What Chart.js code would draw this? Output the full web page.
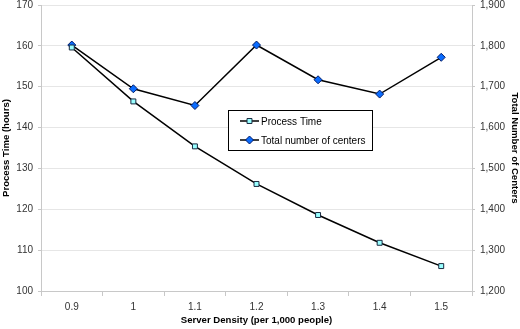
<!DOCTYPE html>
<html lang="en">
<head>
<meta charset="utf-8"/>
<title>Process Time vs Server Density</title>
<script src="https://cdn.jsdelivr.net/npm/chart.js@4.4.3/dist/chart.umd.min.js"></script>
<style>
  html, body { margin: 0; padding: 0; background: #fff; }
  #wrap { width: 520px; height: 329px; position: relative; }
</style>
</head>
<body>
<div id="wrap"><canvas id="chart"></canvas></div>
<script>
  // data
  const densities = ['0.9', '1', '1.1', '1.2', '1.3', '1.4', '1.5'];
  const processTime = [159.6, 146.4, 135.4, 126.2, 118.6, 111.8, 106.1];
  const totalCenters = [1802, 1695, 1654, 1802, 1717, 1682, 1772];

  // legend box drawn inside the plot, like the spreadsheet original
  const boxLegend = {
    id: 'boxLegend',
    afterDraw(chart) {
      const ctx = chart.ctx;
      const a = chart.chartArea;
      const x = a.left + 187, y = a.top + 105, w = 144, h = 40;
      ctx.save();
      ctx.fillStyle = '#fff';
      ctx.fillRect(x, y, w, h);
      ctx.strokeStyle = '#000';
      ctx.lineWidth = 1;
      ctx.strokeRect(x + 0.5, y + 0.5, w, h);
      ctx.font = '10px "Liberation Sans", Arial, sans-serif';
      ctx.textBaseline = 'middle';
      chart.data.datasets.forEach((ds, i) => {
        const cy = y + 11 + i * 19;
        ctx.strokeStyle = '#000';
        ctx.lineWidth = 1.5;
        ctx.beginPath();
        ctx.moveTo(x + 12, cy);
        ctx.lineTo(x + 31, cy);
        ctx.stroke();
        ctx.fillStyle = ds.pointBackgroundColor;
        ctx.strokeStyle = ds.pointBorderColor;
        ctx.lineWidth = 1;
        Chart.helpers.drawPoint(ctx, { pointStyle: ds.pointStyle, radius: ds.pointRadius, borderWidth: 1 }, x + 21.5, cy);
        ctx.fillStyle = '#000';
        ctx.fillText(ds.label, x + 33, cy + 1);
      });
      ctx.restore();
    }
  };

  const tickFont = { family: '"Liberation Sans", Arial, sans-serif', size: 10 };
  const titleFont = { family: '"Liberation Sans", Arial, sans-serif', size: 9.6, weight: 'bold' };
  const noPad = (s) => { s.paddingTop = 0; s.paddingBottom = 0; };

  new Chart(document.getElementById('chart'), {
    type: 'line',
    data: {
      labels: densities,
      datasets: [
        {
          label: 'Process Time',
          data: processTime,
          yAxisID: 'y',
          borderColor: '#000',
          borderWidth: 1.5,
          pointStyle: 'rect',
          pointRadius: 3.5,
          pointBackgroundColor: '#99ffff',
          pointBorderColor: '#1a2a40',
          pointBorderWidth: 1,
          tension: 0,
        },
        {
          label: 'Total number of centers',
          data: totalCenters,
          yAxisID: 'y1',
          borderColor: '#000',
          borderWidth: 1.5,
          pointStyle: 'rectRot',
          pointRadius: 4,
          pointBackgroundColor: '#0a6cff',
          pointBorderColor: '#001a66',
          pointBorderWidth: 1,
          tension: 0,
        },
      ],
    },
    options: {
      responsive: true,
      maintainAspectRatio: false,
      animation: false,
      layout: { padding: { top: 5, right: 0, bottom: 0, left: 0 } },
      plugins: {
        legend: { display: false },
        tooltip: { enabled: false },
      },
      scales: {
        x: {
          offset: true,
          afterFit: (s) => { s.height = 38; },
          grid: { display: true, drawOnChartArea: false, offset: true, tickLength: 5, color: '#c8c8c8' },
          border: { color: '#c8c8c8' },
          ticks: { font: tickFont, color: '#333', padding: 5 },
          title: { display: true, text: 'Server Density (per 1,000 people)', font: titleFont, color: '#000', padding: { top: 1, bottom: 3 } },
        },
        y: {
          position: 'left',
          min: 100, max: 170,
          afterFit: (s) => { s.width = 41; noPad(s); },
          ticks: { stepSize: 10, font: tickFont, color: '#333', padding: 5 },
          grid: { color: '#e6e6e6', tickLength: 3, tickColor: '#c8c8c8' },
          border: { color: '#c8c8c8' },
          title: { display: true, text: 'Process Time (hours)', font: titleFont, color: '#000', padding: { top: 1, bottom: 0 } },
        },
        y1: {
          position: 'right',
          min: 1200, max: 1900,
          afterFit: (s) => { s.width = 48; noPad(s); },
          ticks: { stepSize: 100, font: tickFont, color: '#333', padding: 5 },
          grid: { drawOnChartArea: false, tickLength: 3, color: '#c8c8c8' },
          border: { color: '#c8c8c8' },
          title: { display: true, text: 'Total Number of Centers', font: titleFont, color: '#000', padding: { top: 0, bottom: 2 } },
        },
      },
    },
    plugins: [boxLegend],
  });
</script>
</body>
</html>
